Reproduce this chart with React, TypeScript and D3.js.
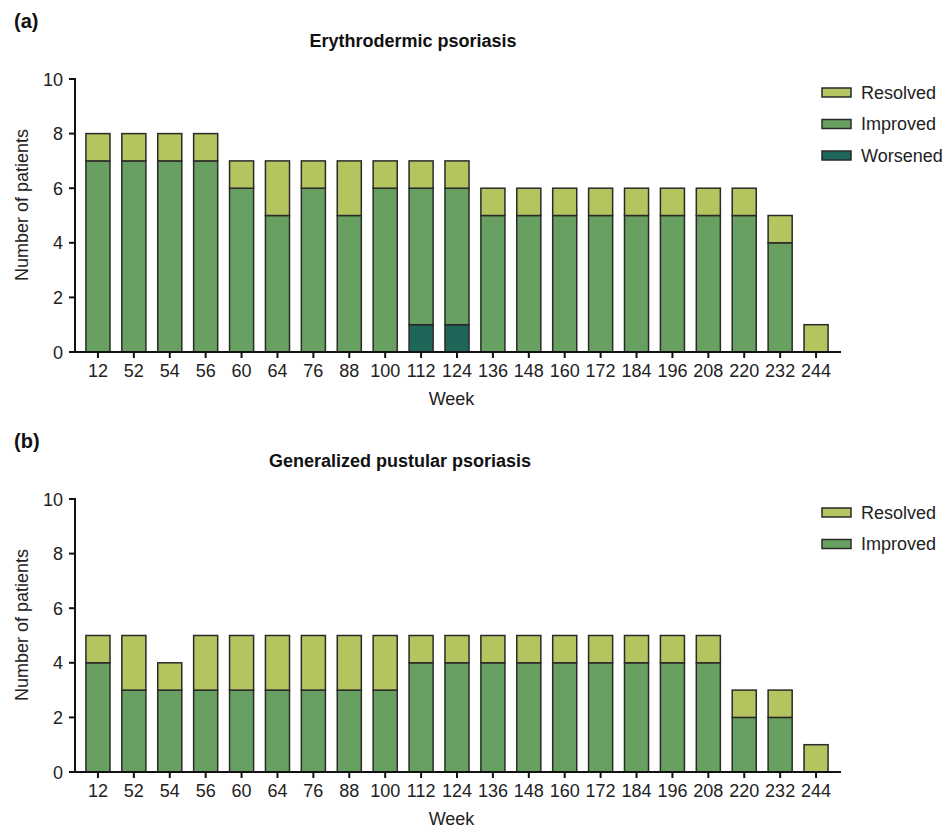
import React from "react";
import * as d3 from "d3";

const weeks = ["12","52","54","56","60","64","76","88","100","112","124","136","148","160","172","184","196","208","220","232","244"];
const yTicks = [0, 2, 4, 6, 8, 10];

const aWorsened = [0,0,0,0,0,0,0,0,0,1,1,0,0,0,0,0,0,0,0,0,0];
const aImproved = [7,7,7,7,6,5,6,5,6,5,5,5,5,5,5,5,5,5,5,4,0];
const aResolved = [1,1,1,1,1,2,1,2,1,1,1,1,1,1,1,1,1,1,1,1,1];

const bImproved = [4,3,3,3,3,3,3,3,3,4,4,4,4,4,4,4,4,4,2,2,0];
const bResolved = [1,2,1,2,2,2,2,2,2,1,1,1,1,1,1,1,1,1,1,1,1];

const COLORS: Record<string, string> = {
  Worsened: "#1e655a",
  Improved: "#67a060",
  Resolved: "#b4c560",
};
const STROKE = "#2a2a2a";
const FONT = "'Liberation Sans', Arial, sans-serif";
const FS = 18;

type Series = { key: string; values: number[] };

function Panel({ top, label, title, titleX, series, legendKeys }: { top: number; label: string; title: string; titleX: number; series: Series[]; legendKeys: string[] }) {
  const x = d3.scaleBand<string>().domain(weeks).range([80, 834]).paddingInner(0.33).paddingOuter(0.165);
  const y0 = top + 352;
  const y = d3.scaleLinear().domain([0, 10]).range([y0, top + 79]);
  const table = weeks.map((w, i) => {
    const row: any = { week: w };
    series.forEach((s) => (row[s.key] = s.values[i]));
    return row;
  });
  const stack = d3.stack<any>().keys(series.map((s) => s.key))(table);
  const axisX = 75;
  return (
    <g>
      <text x={14} y={top + 28} fontFamily={FONT} fontWeight="bold" fontSize={20} fill="#111">{label}</text>
      <text x={titleX} y={top + 47} fontFamily={FONT} fontWeight="bold" fontSize={18} textAnchor="middle" fill="#111">{title}</text>
      {stack.map((layer) =>
        layer.map((d, i) => {
          const h = y(d[0]) - y(d[1]);
          if (h <= 0) return null;
          return (
            <rect key={layer.key + i} x={x(weeks[i])!} y={y(d[1])} width={x.bandwidth()} height={h}
              fill={COLORS[layer.key]} stroke={STROKE} strokeWidth={1.5} />
          );
        })
      )}
      <line x1={axisX} x2={axisX} y1={y(10) - 1} y2={y0 + 1} stroke="#111" strokeWidth={2} />
      {yTicks.map((t) => (
        <g key={t}>
          <line x1={axisX - 6} x2={axisX} y1={y(t)} y2={y(t)} stroke="#111" strokeWidth={2} />
          <text x={axisX - 12} y={y(t) + 6.5} textAnchor="end" fontFamily={FONT} fontSize={FS} fill="#222">{t}</text>
        </g>
      ))}
      <line x1={axisX - 1} x2={841} y1={y0} y2={y0} stroke="#111" strokeWidth={2} />
      {weeks.map((w) => {
        const cx = x(w)! + x.bandwidth() / 2;
        return (
          <g key={w}>
            <line x1={cx} x2={cx} y1={y0} y2={y0 + 6} stroke="#111" strokeWidth={2} />
            <text x={cx} y={y0 + 25} textAnchor="middle" fontFamily={FONT} fontSize={FS} fill="#222">{w}</text>
          </g>
        );
      })}
      <text x={451.5} y={y0 + 53} textAnchor="middle" fontFamily={FONT} fontSize={FS} fill="#222">Week</text>
      <text transform={`translate(28, ${top + 205}) rotate(-90)`} textAnchor="middle" fontFamily={FONT} fontSize={FS} fill="#222">Number of patients</text>
      {legendKeys.map((k, i) => (
        <g key={k}>
          <rect x={822} y={top + 88 + i * 31.5} width={29} height={9} fill={COLORS[k]} stroke={STROKE} strokeWidth={1.5} />
          <text x={861} y={top + 98.5 + i * 31.5} fontFamily={FONT} fontSize={FS} fill="#222">{k}</text>
        </g>
      ))}
    </g>
  );
}

export default function App() {
  return (
    <svg width={946} height={828} style={{ position: "absolute", left: 0, top: 0 }}>
      <rect width={946} height={828} fill="#fff" />
      <Panel top={0} label="(a)" title="Erythrodermic psoriasis" titleX={413}
        series={[{ key: "Worsened", values: aWorsened }, { key: "Improved", values: aImproved }, { key: "Resolved", values: aResolved }]}
        legendKeys={["Resolved", "Improved", "Worsened"]} />
      <Panel top={420} label="(b)" title="Generalized pustular psoriasis" titleX={400}
        series={[{ key: "Improved", values: bImproved }, { key: "Resolved", values: bResolved }]}
        legendKeys={["Resolved", "Improved"]} />
    </svg>
  );
}
